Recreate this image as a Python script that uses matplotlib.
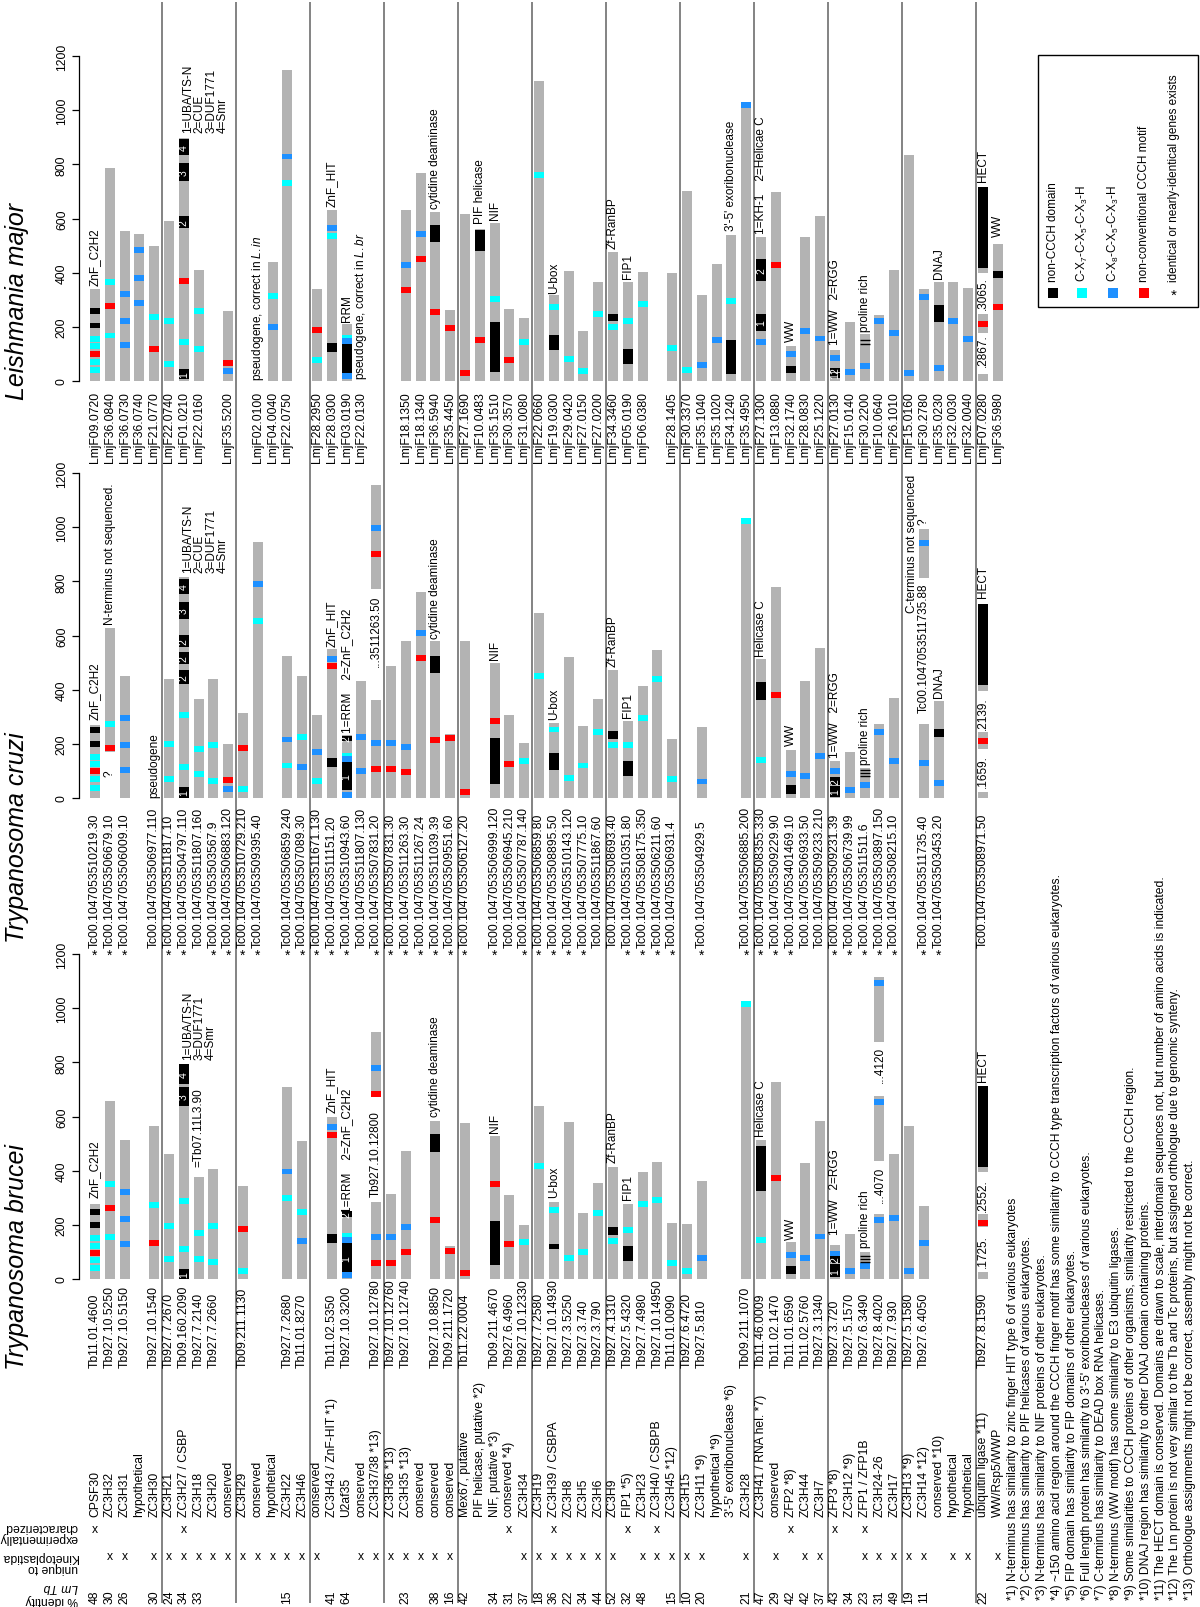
import matplotlib
matplotlib.use('Agg')
import matplotlib.pyplot as plt
from matplotlib.patches import Rectangle

plt.rcParams['font.family'] = ['Liberation Sans', 'DejaVu Sans']
plt.rcParams['mathtext.fontset'] = 'custom'
plt.rcParams['mathtext.rm'] = 'Liberation Sans'
plt.rcParams['mathtext.it'] = 'Liberation Sans:italic'
plt.rcParams['mathtext.default'] = 'regular'

# ---------------------------------------------------------------- data
NAMES = ['CPSF30', 'ZC3H32', 'ZC3H31', 'hypothetical', 'ZC3H30',
         'ZC3H21', 'ZC3H27 / CSBP', 'ZC3H18', 'ZC3H20', 'conserved',
         'ZC3H29', 'conserved', 'hypothetical', 'ZC3H22', 'ZC3H46',
         'conserved', 'ZC3H43 / ZnF-HIT *1)', 'U2af35', 'conserved', 'ZC3H37/38 *13)',
         'ZC3H36 *13)', 'ZC3H35 *13)', 'conserved', 'conserved', 'conserved',
         'Mex67, putative', 'PIF helicase, putative *2)', 'NIF, putative *3)', 'conserved *4)', 'ZC3H34',
         'ZC3H19', 'ZC3H39 / CSBPA', 'ZC3H8', 'ZC3H5', 'ZC3H6',
         'ZC3H9', 'FIP1 *5)', 'ZC3H23', 'ZC3H40 / CSBPB', 'ZC3H45 *12)',
         'ZC3H15', 'ZC3H11 *9)', 'hypothetical *9)', "3'-5' exoribonuclease *6)", 'ZC3H28',
         'ZC3H41 / RNA hel. *7)', 'conserved', 'ZFP2 *8)', 'ZC3H44', 'ZC3H7',
         'ZFP3 *8)', 'ZC3H12 *9)', 'ZFP1 / ZFP1B', 'ZC3H24-26', 'ZC3H17',
         'ZC3H13 *9)', 'ZC3H14 *12)', 'conserved *10)', 'hypothetical', 'hypothetical',
         'ubiquitin ligase *11)', 'WW/Rsp5/WWP']
GROUP_SIZES = [5] * 12 + [2]

IDENTITY = {0: 48, 1: 30, 2: 26, 4: 30, 5: 24, 6: 34, 7: 33, 13: 15, 16: 41, 17: 64,
            21: 23, 23: 38, 24: 16, 25: 42, 27: 34, 28: 31, 29: 37, 30: 18, 31: 36,
            32: 22, 33: 34, 34: 44, 35: 52, 36: 32, 37: 48, 39: 15, 40: 10, 41: 20,
            44: 21, 45: 47, 46: 29, 47: 42, 48: 42, 49: 37, 50: 43, 51: 34, 52: 23,
            53: 31, 54: 49, 55: 19, 56: 11, 60: 22}
UNIQUE = [1, 2, 4, 5, 6, 7, 8, 9, 10, 11, 12, 13, 14, 15, 18, 19, 20, 21, 22, 23, 24,
          29, 30, 31, 32, 33, 34, 35, 37, 38, 39, 40, 41, 44, 46, 48, 49, 52, 53, 54,
          55, 56, 58, 59, 61]
CHARACTERIZED = [0, 6, 28, 31, 36, 38, 47, 50, 52]

# ---- Leishmania major
LM_GENE = {0: 'LmjF09.0720', 1: 'LmjF36.0840', 2: 'LmjF36.0730', 3: 'LmjF36.0740', 4: 'LmjF21.0770',
           5: 'LmjF22.0740', 6: 'LmjF01.0210', 7: 'LmjF22.0160', 9: 'LmjF35.5200',
           11: 'LmjF02.0100', 12: 'LmjF04.0040', 13: 'LmjF22.0750',
           15: 'LmjF28.2950', 16: 'LmjF28.0300', 17: 'LmjF03.0190', 18: 'LmjF22.0130',
           21: 'LmjF18.1350', 22: 'LmjF18.1340', 23: 'LmjF36.5940', 24: 'LmjF35.4450',
           25: 'LmjF27.1690', 26: 'LmjF10.0483', 27: 'LmjF35.1510', 28: 'LmjF30.3570', 29: 'LmjF31.0080',
           30: 'LmjF22.0660', 31: 'LmjF19.0300', 32: 'LmjF29.0420', 33: 'LmjF27.0150', 34: 'LmjF27.0200',
           35: 'LmjF34.3460', 36: 'LmjF05.0190', 37: 'LmjF06.0380', 39: 'LmjF28.1405',
           40: 'LmjF30.3370', 41: 'LmjF35.1040', 42: 'LmjF35.1020', 43: 'LmjF34.1240', 44: 'LmjF35.4950',
           45: 'LmjF27.1300', 46: 'LmjF13.0880', 47: 'LmjF32.1740', 48: 'LmjF28.0830', 49: 'LmjF25.1220',
           50: 'LmjF27.0130', 51: 'LmjF15.0140', 52: 'LmjF30.2200', 53: 'LmjF10.0640', 54: 'LmjF26.1010',
           55: 'LmjF15.0160', 56: 'LmjF30.2780', 57: 'LmjF35.0230', 58: 'LmjF32.0030', 59: 'LmjF32.0040',
           60: 'LmjF07.0280', 61: 'LmjF36.5980'}
LM_LEN = {0: 340, 1: 786, 2: 555, 3: 544, 4: 497, 5: 592, 6: 896, 7: 411, 9: 258, 12: 440,
          13: 1148, 15: 340, 16: 632, 17: 209, 21: 632, 22: 768, 23: 624, 24: 264, 25: 616,
          26: 561, 27: 583, 28: 266, 29: 231, 30: 1108, 31: 316, 32: 405, 33: 184, 34: 365,
          35: 476, 36: 365, 37: 403, 39: 399, 40: 702, 41: 319, 42: 433, 43: 540, 44: 1029,
          45: 532, 46: 697, 47: 129, 48: 532, 49: 608, 50: 113, 51: 217, 52: 172, 53: 243,
          54: 411, 55: 835, 56: 340, 57: 366, 58: 366, 59: 344, 61: 507}
LM_PARTS = {60: [(0, 25), (178, 246), (399, 718)]}
LM_CYAN = {0: [156, 129, 71, 41], 1: [365, 168], 4: [236], 5: [223, 64], 6: [144], 7: [260, 117],
           12: [313], 13: [731], 15: [77], 16: [537], 17: [160], 27: [303], 29: [144], 30: [759],
           31: [273], 32: [80], 33: [37], 34: [246], 35: [199], 36: [223], 37: [286], 39: [123],
           40: [39], 43: [297]}
LM_BLUE = {2: [322, 223, 133], 3: [485, 381, 287], 9: [37], 12: [200], 13: [829], 16: [565],
           17: [147, 18], 21: [427], 22: [544], 41: [58], 42: [150], 44: [1019], 45: [144],
           47: [98], 48: [184], 49: [157], 50: [86], 51: [33], 52: [55], 53: [221], 54: [176],
           55: [31], 56: [311], 57: [49], 58: [221], 59: [154]}
LM_RED = {0: [101], 1: [276], 4: [117], 6: [371], 9: [68], 15: [187], 21: [335], 22: [452],
          23: [254], 24: [194], 25: [31], 26: [150], 28: [76], 46: [430], 60: [209], 61: [273]}
LM_DOM = {0: [(249, 271, ''), (194, 216, '')],
          6: [(6, 43, '1'), (565, 608, '2'), (740, 806, '3'), (836, 893, '4')],
          16: [(107, 139, '')], 17: [(31, 135, '')], 23: [(512, 575, '')], 26: [(479, 556, '')],
          27: [(33, 217, '')], 31: [(113, 169, '')], 35: [(221, 249, '')], 36: [(64, 120, '')],
          43: [(27, 150, '')], 45: [(184, 249, '1'), (371, 451, '2')], 47: [(28, 55, '')],
          50: [(12, 30, '1'), (32, 49, '2')], 57: [(217, 279, '')], 60: [(418, 718, '')],
          61: [(381, 405, '')]}
LM_STRIPES = {52: [138, 150]}
LM_NOTES = [(0, 356, 'ZnF_C2H2'), (6, 921, '1=UBA/TS-N\n2=CUE\n3=DUF1771\n4=Smr'),
            (11, 5, r'pseudogene, correct in $\mathit{L.in}$'), (16, 645, 'ZnF_HIT'),
            (17, 221, 'RRM'), (18, 6, r'pseudogene, correct in $\mathit{L.br}$'),
            (23, 639, 'cytidine deaminase'), (26, 583, 'PIF helicase'), (27, 598, 'NIF'),
            (31, 325, 'U-box'), (35, 491, 'Zf-RanBP'), (36, 381, 'FIP1'),
            (43, 559, "3'-5' exoribonuclease"), (45, 546, '1=KH-1    2=Helicae C'),
            (47, 147, 'WW'), (50, 135, '1=WW   2=RGG'), (52, 184, 'proline rich'),
            (57, 381, 'DNAJ'), (60, 55, '.2867.'), (60, 264, '.3065.'), (60, 737, 'HECT'),
            (61, 534, 'WW')]

# ---- Trypanosoma cruzi
TC_GENE = {0: 'Tc00.1047053510219.30', 1: 'Tc00.1047053506679.10', 2: 'Tc00.1047053506009.10',
           4: 'Tc00.1047053506977.110', 5: 'Tc00.1047053511817.10', 6: 'Tc00.1047053504797.110',
           7: 'Tc00.1047053511807.160', 8: 'Tc00.1047053503567.9', 9: 'Tc00.1047053506883.120',
           10: 'Tc00.1047053510729.210', 11: 'Tc00.1047053509395.40', 13: 'Tc00.1047053506859.240',
           14: 'Tc00.1047053507089.30', 15: 'Tc00.1047053511671.130', 16: 'Tc00.1047053511151.20',
           17: 'Tc00.1047053510943.60', 18: 'Tc00.1047053511807.130', 19: 'Tc00.1047053507831.20',
           20: 'Tc00.1047053507831.30', 21: 'Tc00.1047053511263.30', 22: 'Tc00.1047053511267.24',
           23: 'Tc00.1047053511039.39', 24: 'Tc00.1047053509551.60', 25: 'Tc00.1047053506127.20',
           27: 'Tc00.1047053506999.120', 28: 'Tc00.1047053506945.210', 29: 'Tc00.1047053507787.140',
           30: 'Tc00.1047053506859.80', 31: 'Tc00.1047053508895.50', 32: 'Tc00.1047053510143.120',
           33: 'Tc00.1047053507775.10', 34: 'Tc00.1047053511867.60', 35: 'Tc00.1047053508693.40',
           36: 'Tc00.1047053510351.80', 37: 'Tc00.1047053508175.350', 38: 'Tc00.1047053506211.60',
           39: 'Tc00.1047053506931.4', 41: 'Tc00.1047053504929.5', 44: 'Tc00.1047053506885.200',
           45: 'Tc00.1047053508355.330', 46: 'Tc00.1047053509229.90', 47: 'Tc00.1047053401469.10',
           48: 'Tc00.1047053506933.50', 49: 'Tc00.1047053509233.210', 50: 'Tc00.1047053509231.39',
           51: 'Tc00.1047053506739.99', 52: 'Tc00.1047053511511.6', 53: 'Tc00.1047053503897.150',
           54: 'Tc00.1047053508215.10', 56: 'Tc00.1047053511735.40', 57: 'Tc00.1047053503453.20',
           60: 'Tc00.1047053508971.50'}
TC_STAR = [0, 1, 2, 5, 6, 8, 9, 10, 11, 13, 14, 15, 16, 17, 19, 20, 21, 22, 23, 24, 25, 27,
           29, 30, 31, 32, 33, 36, 37, 38, 39, 41, 44, 45, 46, 47, 50, 51, 52, 53, 54, 56, 57]
TC_LEN = {0: 270, 2: 450, 5: 440, 6: 815, 7: 366, 8: 440, 9: 200, 10: 313, 11: 944, 13: 524,
          14: 450, 15: 307, 16: 551, 17: 232, 18: 432, 20: 486, 21: 578, 22: 762, 23: 579,
          24: 237, 25: 578, 27: 499, 28: 307, 29: 203, 30: 682, 31: 278, 32: 520, 33: 266,
          34: 364, 35: 473, 36: 284, 37: 413, 38: 545, 39: 219, 41: 262, 44: 1034, 45: 514,
          46: 778, 47: 178, 48: 432, 49: 554, 50: 135, 51: 170, 52: 111, 53: 274, 54: 370,
          57: 358}
TC_PARTS = {1: [(170, 627)], 19: [(0, 363), (770, 1157)], 56: [(0, 274), (811, 993)],
            60: [(0, 22), (182, 243), (395, 717)]}
TC_CYAN = {0: [151, 127, 69, 38], 1: [274], 5: [200, 71], 6: [307, 114], 7: [182, 90],
           8: [194, 63], 10: [32], 11: [653], 13: [120], 14: [225], 15: [63], 17: [155],
           29: [135], 30: [452], 31: [253], 32: [75], 33: [120], 34: [243], 35: [197],
           36: [194], 37: [296], 38: [440], 39: [71], 44: [1022], 45: [139]}
TC_BLUE = {2: [295, 197, 105], 9: [34], 11: [790], 13: [216], 14: [114], 15: [170], 16: [514],
           17: [143, 12], 18: [227, 98], 19: [204, 997], 20: [204], 21: [188], 22: [609],
           41: [61], 47: [87], 48: [80], 49: [155], 50: [98], 51: [28], 52: [49], 53: [243],
           54: [135], 56: [130, 941], 57: [55]}
TC_RED = {0: [98], 1: [184], 9: [68], 10: [184], 16: [486], 19: [108, 902], 20: [108],
          21: [96], 22: [516], 23: [215], 24: [221], 25: [22], 27: [283], 28: [127],
          46: [382], 60: [209]}
TC_DOM = {0: [(239, 261, ''), (189, 211, '')],
          6: [(0, 41, '1'), (422, 471, '2'), (495, 538, '2'), (557, 600, '2'), (662, 723, '3'),
              (754, 809, '4')],
          16: [(114, 148, '')], 17: [(28, 133, '1'), (210, 230, '2')], 23: [(462, 526, '')],
          27: [(50, 223, '')], 31: [(105, 167, '')], 35: [(219, 246, '')], 36: [(80, 136, '')],
          45: [(363, 428, '')], 47: [(16, 47, '')], 50: [(4, 45, '1'), (47, 77, '2')],
          57: [(227, 256, '')], 60: [(416, 717, '')]}
TC_STRIPES = {52: [80, 92, 104]}
TC_NOTES = [(0, 293, 'ZnF_C2H2'), (1, 643, 'N-terminus not sequenced.'), (1, 80, '?'),
            (4, 5, 'pseudogene'), (6, 834, '1=UBA/TS-N\n2=CUE\n3=DUF1771\n4=Smr'),
            (16, 563, 'ZnF_HIT'), (17, 243, '1=RRM    2=ZnF_C2H2'), (19, 489, '...3511263.50'),
            (23, 591, 'cytidine deaminase'), (27, 514, 'NIF'), (31, 293, 'U-box'),
            (35, 489, 'Zf-RanBP'), (36, 299, 'FIP1'), (45, 526, 'Helicase C'), (47, 194, 'WW'),
            (50, 151, '1=WW   2=RGG'), (52, 127, 'proline rich'),
            (55.2, 686, 'C-terminus not sequenced'), (56, 317, 'Tc00.1047053511735.88'),
            (56, 1010, '?'), (57, 373, 'DNAJ'), (60, 41, '.1659.'), (60, 256, '.2139.'),
            (60, 741, 'HECT')]

# ---- Trypanosoma brucei
TB_GENE = {0: 'Tb11.01.4600', 1: 'Tb927.10.5250', 2: 'Tb927.10.5150', 4: 'Tb927.10.1540',
           5: 'Tb927.7.2670', 6: 'Tb09.160.2090', 7: 'Tb927.7.2140', 8: 'Tb927.7.2660',
           10: 'Tb09.211.1130', 13: 'Tb927.7.2680', 14: 'Tb11.01.8270', 16: 'Tb11.02.5350',
           17: 'Tb927.10.3200', 19: 'Tb927.10.12780', 20: 'Tb927.10.12760', 21: 'Tb927.10.12740',
           23: 'Tb927.10.8850', 24: 'Tb09.211.1720', 25: 'Tb11.22.0004', 27: 'Tb09.211.4670',
           28: 'Tb927.6.4960', 29: 'Tb927.10.12330', 30: 'Tb927.7.2580', 31: 'Tb927.10.14930',
           32: 'Tb927.3.5250', 33: 'Tb927.3.740', 34: 'Tb927.3.790', 35: 'Tb927.4.1310',
           36: 'Tb927.5.4320', 37: 'Tb927.7.4980', 38: 'Tb927.10.14950', 39: 'Tb11.01.0090',
           40: 'Tb927.6.4720', 41: 'Tb927.5.810', 44: 'Tb09.211.1070', 45: 'Tb11.46.0009',
           46: 'Tb11.02.1470', 47: 'Tb11.01.6590', 48: 'Tb11.02.5760', 49: 'Tb927.3.1340',
           50: 'Tb927.3.720', 51: 'Tb927.5.1570', 52: 'Tb927.6.3490', 53: 'Tb927.8.4020',
           54: 'Tb927.7.930', 55: 'Tb927.5.1580', 56: 'Tb927.6.4050', 60: 'Tb927.8.1590'}
TB_LEN = {0: 277, 1: 656, 2: 513, 4: 564, 5: 462, 6: 794, 7: 375, 8: 406, 10: 345, 13: 708,
          14: 511, 16: 597, 17: 252, 20: 314, 21: 474, 23: 585, 24: 123, 25: 576, 27: 529,
          28: 311, 29: 200, 30: 638, 31: 284, 32: 578, 33: 245, 34: 355, 35: 414, 36: 277,
          37: 394, 38: 431, 39: 207, 40: 203, 41: 363, 44: 1025, 45: 514, 46: 726, 47: 135,
          48: 428, 49: 585, 50: 127, 51: 166, 52: 98, 54: 462, 55: 566, 56: 271}
TB_PARTS = {19: [(0, 285), (671, 911)], 53: [(0, 240), (437, 674), (874, 1114)],
            60: [(0, 25), (191, 240), (394, 714)]}
TB_CYAN = {0: [150, 123, 70, 39], 1: [351, 154], 4: [273], 5: [194, 74], 6: [287, 111],
           7: [169, 74], 8: [194, 64], 10: [31], 13: [299], 14: [246], 17: [160], 29: [137],
           30: [417], 31: [256], 32: [76], 33: [98], 34: [245], 35: [142], 36: [182],
           37: [277], 38: [293], 39: [58], 40: [31], 44: [1015], 45: [145]}
TB_BLUE = {2: [320, 222, 129], 13: [397], 14: [139], 16: [560], 17: [145, 15], 19: [154, 778],
           20: [154], 21: [191], 41: [78], 47: [90], 48: [76], 49: [157], 50: [92], 51: [28],
           52: [47], 53: [218, 652, 1093], 54: [225], 55: [28], 56: [134]}
TB_RED = {0: [97], 1: [262], 4: [134], 10: [185], 16: [533], 19: [58, 683], 20: [58],
          21: [98], 23: [218], 24: [105], 25: [22], 27: [351], 28: [129], 46: [373], 60: [208]}
TB_DOM = {0: [(238, 260, ''), (188, 210, '')],
          6: [(0, 37, '1'), (640, 710, '3'), (720, 794, '4')],
          16: [(133, 166, '')], 17: [(25, 132, '1'), (228, 250, '2')], 23: [(468, 535, '')],
          27: [(52, 215, '')], 31: [(111, 129, '')], 35: [(162, 191, '')], 36: [(68, 123, '')],
          45: [(326, 492, '')], 47: [(18, 47, '')], 50: [(6, 55, '1'), (60, 85, '2')],
          60: [(412, 714, '')]}
TB_STRIPES = {52: [64, 74, 84]}
TB_NOTES = [(0, 301, 'ZnF_C2H2'), (6, 812, '1=UBA/TS-N\n3=DUF1771\n4=Smr'),
            (7, 418, '=Tb07.11L3.90'), (16, 615, 'ZnF_HIT'), (17, 246, '1=RRM    2=ZnF_C2H2'),
            (19, 308, 'Tb927.10.12800'), (23, 603, 'cytidine deaminase'), (27, 541, 'NIF'),
            (31, 301, 'U-box'), (35, 431, 'Zf-RanBP'), (36, 295, 'FIP1'),
            (45, 529, 'Helicase C'), (47, 148, 'WW'), (50, 166, '1=WW   2=RGG'),
            (52, 117, 'proline rich'), (53, 283, '...4070'), (53, 726, '...4120'),
            (60, 43, '.1725.'), (60, 250, '.2552.'), (60, 732, 'HECT')]

TICKS = [0, 200, 400, 600, 800, 1000, 1200]

LEGEND_LABELS = ['non-CCCH domain', r'C-X$_7$-C-X$_5$-C-X$_3$-H', r'C-X$_8$-C-X$_5$-C-X$_3$-H',
                 'non-conventional CCCH motif', 'identical or nearly-identical genes exists']

FOOTNOTES = [
    '*1) N-terminus has similarity to zinc finger HIT type 6 of various eukaryotes',
    '*2) C-terminus has similarity to PIF helicases of various eukaryotes.',
    '*3) N-terminus has similarity to NIF proteins of other eukaryotes.',
    '*4) ~150 amino acid region around the CCCH finger motif has some similarity to CCCH type transcription factors of various eukaryotes.',
    '*5) FIP domain has similarity to FIP domains of other eukaryotes.',
    "*6) Full length protein has similarity to 3'-5' exoribonucleases of various eukaryotes.",
    '*7) C-terminus has similarity to DEAD box RNA helicases.',
    '*8) N-terminus (WW motif) has some similarity to E3 ubiquitin ligases.',
    '*9) Some similarities to CCCH proteins of other organisms, similarity restricted to the CCCH region.',
    '*10) DNAJ region has similarity to other DNAJ domain containing proteins.',
    '*11) The HECT domain is conserved. Domains are drawn to scale, interdomain sequences not, but number of amino acids is indicated.',
    '*12) The Lm protein is not very similar to the Tb and Tc proteins, but assigned orthologue due to genomic synteny.',
    '*13) Orthologue assignments might not be correct, assembly might not be correct.']

# ---------------------------------------------------------------- style / layout
GRAY = '#b3b3b3'
CYAN = '#00ffff'
BLUE = '#1e90ff'
RED = '#ff0000'
SEP = '#6e6e6e'
W, H = 1200, 1608
X0, DX = 95.0, 14.8          # pixel of first row, pixel step per row
BW = 0.68                    # bar width (rows)
MH = 22                      # motif height (aa)
FS_LAB = 8.7
FS_NOTE = 8.5

fig = plt.figure(figsize=(W / 100, H / 100), dpi=100)


def xl(left_px, right_px):
    return ((left_px - X0) / DX, (right_px - X0) / DX)


# overlay in row units (x) and pixels from top (y)
tab = fig.add_axes([0, 0, 1, 1])
tab.set_xlim(*xl(0, W))
tab.set_ylim(H, 0)
tab.axis('off')

# group separators
b = -0.5
for g in GROUP_SIZES[:-1]:
    b += g
    tab.vlines(b, 3, 1604, color=SEP, lw=1.2)

AX_LEFT = 79
PANELS = [
    ('Leishmania major', 382, 463, 400, LM_GENE, LM_LEN, LM_PARTS, LM_CYAN, LM_BLUE, LM_RED,
     LM_DOM, LM_STRIPES, LM_NOTES, []),
    ('Trypanosoma cruzi', 799, 948, 943, TC_GENE, TC_LEN, TC_PARTS, TC_CYAN, TC_BLUE, TC_RED,
     TC_DOM, TC_STRIPES, TC_NOTES, TC_STAR),
    ('Trypanosoma brucei', 1280, 1368, 1370, TB_GENE, TB_LEN, TB_PARTS, TB_CYAN, TB_BLUE, TB_RED,
     TB_DOM, TB_STRIPES, TB_NOTES, []),
]
PANEL_H = 325

for (title, base_px, lab_px, title_px, genes, lens, parts, cy, bl, rd, dom, stripes, notes,
     stars) in PANELS:
    ax = fig.add_axes([AX_LEFT / W, (H - base_px) / H, (W - AX_LEFT) / W, PANEL_H / H])
    ax.set_facecolor('none')
    ax.set_xlim(*xl(AX_LEFT, W))
    ax.set_ylim(0, 1200)
    for s in ['top', 'right', 'bottom']:
        ax.spines[s].set_visible(False)
    ax.spines['left'].set_bounds(0, 1200)
    ax.spines['left'].set_linewidth(0.9)
    ax.set_xticks([])
    ax.set_yticks(TICKS)
    ax.tick_params(axis='y', length=5, width=0.9, pad=3, labelsize=FS_LAB)
    for t in ax.get_yticklabels():
        t.set_rotation(90)
        t.set_va('center')

    segs = {r: [(0, L)] for r, L in lens.items()}
    segs.update(parts)
    for r, ss in segs.items():
        for s0, s1 in ss:
            ax.bar(r, s1 - s0, bottom=s0, width=BW, color=GRAY, lw=0, zorder=2)
    for marks, col in [(cy, CYAN), (bl, BLUE), (rd, RED)]:
        for r, cs in marks.items():
            for c in cs:
                ax.bar(r, MH, bottom=c - MH / 2, width=BW, color=col, lw=0, zorder=3)
    for r, ds in dom.items():
        for s0, s1, lab in ds:
            ax.bar(r, s1 - s0, bottom=s0, width=BW, color='black', lw=0, zorder=4)
            if lab:
                ax.text(r, (s0 + s1) / 2, lab, color='white', rotation=90, ha='center',
                        va='center', fontsize=7.5, zorder=5, clip_on=False)
    for r, ys in stripes.items():
        ax.hlines(ys, r - BW / 2, r + BW / 2, color='black', lw=1.0, zorder=4)
    for r, y, txt in notes:
        if '\n' in txt:
            ax.text(r - 0.12, y, txt, rotation=90, ha='left', va='bottom', fontsize=FS_NOTE,
                    multialignment='left', linespacing=0.95, clip_on=False, zorder=6)
        else:
            ax.text(r, y, txt, rotation=90, ha='center', va='bottom', fontsize=FS_NOTE,
                    clip_on=False, zorder=6)

    # gene ids
    for r, g in genes.items():
        tab.text(r, lab_px, g, rotation=90, ha='center', va='bottom', fontsize=FS_LAB)
    for r in stars:
        tab.text(r, lab_px + 8, '*', ha='center', va='center', fontsize=10)
    # title
    tab.text(-5.3, title_px, title, rotation=90, ha='center', va='bottom', fontsize=18,
             style='italic')

# ---------------------------------------------------------------- table
NAME_Y, CHAR_Y, UNIQ_Y, IDEN_Y = 1517, 1530, 1557, 1597
for r, n in enumerate(NAMES):
    tab.text(r, NAME_Y, n, rotation=90, ha='center', va='bottom', fontsize=FS_LAB)
for r in CHARACTERIZED:
    tab.text(r, CHAR_Y, 'x', ha='center', va='center', fontsize=FS_LAB)
for r in UNIQUE:
    tab.text(r, UNIQ_Y, 'x', ha='center', va='center', fontsize=FS_LAB)
for r, v in IDENTITY.items():
    tab.text(r, IDEN_Y, str(v), rotation=90, ha='center', va='center', fontsize=FS_LAB)

hx = (78 - X0) / DX
for txt, y, st in [('% identity', 1600, 'normal'), ('Lm Tb', 1587, 'italic'),
                   ('unique to', 1568, 'normal'), ('Kinetoplastida', 1557, 'normal'),
                   ('experimentally', 1538, 'normal'), ('characterized', 1527, 'normal')]:
    tab.text(hx, y, txt, rotation=180, ha='right', va='center', fontsize=FS_LAB, style=st)

# footnotes
for k, fn in enumerate(FOOTNOTES):
    tab.text(62 + k, 1600, fn, rotation=90, ha='center', va='bottom', fontsize=FS_LAB)

# ---------------------------------------------------------------- legend
lg = fig.add_axes([0, 0, 1, 1])
lg.set_xlim(0, W)
lg.set_ylim(H, 0)
lg.axis('off')
lg.add_patch(Rectangle((1038, 56), 160, 252, fill=False, ec='black', lw=1.0))
LEG_X = [1053, 1082, 1113, 1144, 1174]
for x, lab, col in zip(LEG_X, LEGEND_LABELS, ['black', CYAN, BLUE, RED, None]):
    if col:
        lg.add_patch(Rectangle((x - 5, 289), 10, 10, color=col, lw=0))
    else:
        lg.text(x, 296, '*', ha='center', va='center', fontsize=11)
    lg.text(x, 282, lab, rotation=90, ha='center', va='bottom', fontsize=FS_NOTE)

fig.savefig('out.png', dpi=100)
